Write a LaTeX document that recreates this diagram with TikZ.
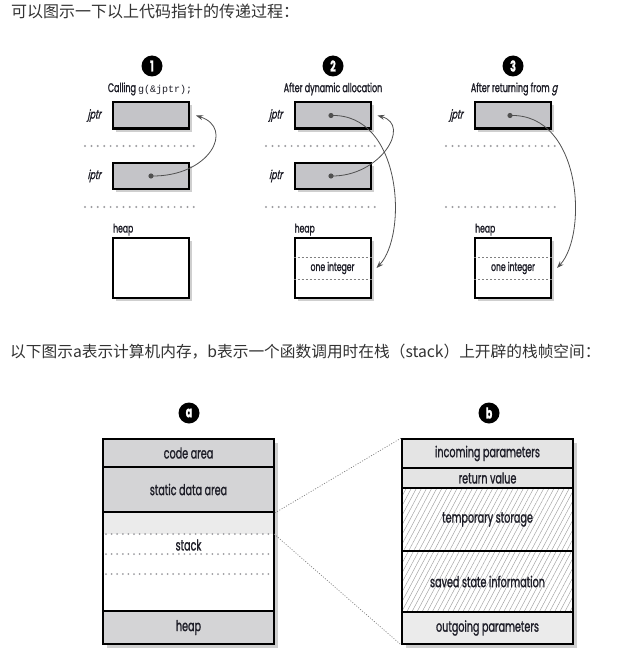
\documentclass[tikz,border=0pt]{standalone}
\usepackage{fontspec}
\usetikzlibrary{arrows.meta,patterns.meta,shadows,calc}
\setmainfont{Poppins}
\newfontfamily\cond[FakeStretch=0.64,FakeBold=1.2]{Poppins}
\newfontfamily\condit[FakeStretch=0.64,FakeSlant=0.22,FakeBold=1.2]{Poppins}
\newfontfamily\cjk{Noto Sans CJK SC}
\newfontfamily\monof{Liberation Mono}
\definecolor{boxgray}{HTML}{C4C4C8}
\definecolor{areagray}{HTML}{D4D4D6}
\definecolor{paleA}{HTML}{EBEBEB}
\definecolor{paleB}{HTML}{E4E4E4}
\definecolor{txt}{HTML}{333333}
\definecolor{ink}{HTML}{1E1E28}
\definecolor{dotgray}{HTML}{9C9CA0}
\definecolor{arrowgray}{HTML}{505050}
\definecolor{shadowgray}{HTML}{CFCFCF}
\begin{document}
\begin{tikzpicture}[x=1pt,y=-1pt,
  ptrbox/.style={draw=black, line width=2pt, fill=boxgray, minimum width=76pt, minimum height=26pt, inner sep=0pt,
    general shadow={fill=shadowgray, shadow xshift=3pt, shadow yshift=-3pt}},
  heapbox/.style={draw=black, line width=2pt, fill=white, minimum width=76pt, minimum height=60pt, inner sep=0pt,
    general shadow={fill=shadowgray, shadow xshift=3pt, shadow yshift=-3pt}},
  lbl/.style={font=\condit\fontsize{12.5}{14}\selectfont, text=ink, inner sep=0pt},
  hlbl/.style={font=\cond\fontsize{12}{14}\selectfont, text=ink, inner sep=0pt},
  ttl/.style={font=\cond\fontsize{12.5}{14}\selectfont, text=ink, inner sep=0pt},
  numc/.style={circle, fill=black, text=white, minimum size=21pt, inner sep=0pt, font=\cond\bfseries\fontsize{15}{15}\selectfont},
  dotrow/.style={dotgray, line width=2.2pt, line cap=round, dash pattern=on 0pt off 6.4pt},
  ptrdot/.style={circle, fill=arrowgray, minimum size=5.2pt, inner sep=0pt},
  arr/.style={arrowgray, line width=0.8pt, -{Stealth[length=7pt,width=5pt]}},
  intline/.style={gray, line width=0.7pt, dash pattern=on 2.2pt off 1.8pt},
  areabox/.style={draw=black, line width=1.8pt, minimum width=171pt, inner sep=0pt, font=\cond\fontsize{15}{17}\selectfont, text=ink},
  hatchbox/.style={draw=black, line width=1.8pt, minimum width=171pt, inner sep=0pt, preaction={fill=white}, pattern={Lines[angle=62,distance=4.5pt,line width=0.45pt]}, pattern color=gray!75},
  conn/.style={gray, line width=0.7pt, dash pattern=on 1pt off 1.6pt},
  cjkt/.style={font=\cjk\fontsize{16}{18}\selectfont, text=txt, inner sep=0pt}
]
\useasboundingbox (0,0) rectangle (621,658);
\fill[white] (0,0) rectangle (621,658);

% header
\node[cjkt, anchor=west] (hdr1) at (11,11) {可以图示一下以上代码指针的传递过程：};

% ---------- panel 1 ----------
\node[numc] (n1) at (152,66) {1};
\node[ttl] (t1) at (150,89) {Calling {\monof\fontsize{10}{12}\selectfont g(\&jptr);}};
\node[ptrbox] (j1) at (151,115.5) {};
\node[ptrbox] (i1) at (151,176) {};
\node[lbl, anchor=east] (lj1) at ([xshift=-11pt]j1.west) {jptr};
\node[lbl, anchor=east] (li1) at ([xshift=-11pt]i1.west) {iptr};
\draw[dotrow] (85,146) -- (195,146);
\draw[dotrow] (85,207) -- (195,207);
\node[heapbox] (h1) at (151,268) {};
\node[hlbl, anchor=base west] (lh1) at ([xshift=1pt,yshift=4.5pt]h1.north west) {heap};
\node[ptrdot] (d1) at (151,176) {};
\draw[arr] (d1.center) .. controls (210,177) and (235,128) .. ([xshift=6pt]j1.east);

% ---------- panel 2 ----------
\node[numc] (n2) at (333,66) {2};
\node[ttl] (t2) at (333,89) {After dynamic allocation};
\node[ptrbox] (j2) at (332.5,115.5) {};
\node[ptrbox] (i2) at (332.5,176) {};
\node[lbl, anchor=east] (lj2) at ([xshift=-11pt]j2.west) {jptr};
\node[lbl, anchor=east] (li2) at ([xshift=-11pt]i2.west) {iptr};
\draw[dotrow] (266,146) -- (377,146);
\draw[dotrow] (266,207) -- (377,207);
\node[heapbox] (h2) at (332.5,268) {};
\node[hlbl, anchor=base west] (lh2) at ([xshift=1pt,yshift=4.5pt]h2.north west) {heap};
\draw[intline] ([yshift=-20pt]h2.north west) -- ([yshift=-20pt]h2.north east);
\draw[intline] ([yshift=20pt]h2.south west) -- ([yshift=20pt]h2.south east);
\node[hlbl, font=\cond\fontsize{12}{13}\selectfont] (oi2) at (332.5,268) {one integer};
\node[ptrdot] (d2i) at (331,176) {};
\node[ptrdot] (d2j) at (331,115.5) {};
\draw[arr] (d2i.center) .. controls (380,177) and (412,125) .. ([xshift=6pt]j2.east);
\draw[arr] (d2j.center) .. controls (402,113) and (408,235) .. ([xshift=5pt]h2.east);

% ---------- panel 3 ----------
\node[numc] (n3) at (513,66) {3};
\node[ttl] (t3) at (514,89) {After returning from {\condit g}};
\node[ptrbox] (j3) at (513,115.5) {};
\node[lbl, anchor=east] (lj3) at ([xshift=-11pt]j3.west) {jptr};
\draw[dotrow] (446,146) -- (557,146);
\draw[dotrow] (446,207) -- (557,207);
\node[heapbox] (h3) at (513,268) {};
\node[hlbl, anchor=base west] (lh3) at ([xshift=1pt,yshift=4.5pt]h3.north west) {heap};
\draw[intline] ([yshift=-20pt]h3.north west) -- ([yshift=-20pt]h3.north east);
\draw[intline] ([yshift=20pt]h3.south west) -- ([yshift=20pt]h3.south east);
\node[hlbl, font=\cond\fontsize{12}{13}\selectfont] (oi3) at (513,268) {one integer};
\node[ptrdot] (d3j) at (510,115.5) {};
\draw[arr] (d3j.center) .. controls (582,113) and (588,235) .. ([xshift=5pt]h3.east);

% second header
\node[cjkt, font=\cjk\fontsize{15.7}{18}\selectfont, anchor=west] (hdr2) at (10,352) {以下图示a表示计算机内存，b表示一个函数调用时在栈（stack）上开辟的栈帧空间：};

% ---------- a ----------
\node[numc] (na) at (189,413) {a};
\fill[shadowgray] (107,443) rectangle (278,648);
\node[areabox, fill=areagray, minimum height=28pt] (codeA) at (188.5,453) {code area};
\node[areabox, fill=areagray, minimum height=45pt] (staticA) at (188.5,489.5) {static data area};
\node[areabox, fill=white, minimum height=99pt] (stackA) at (188.5,561.5) {};
\fill[paleA] (104,513) rectangle (273,534);
\node[areabox, fill=areagray, minimum height=33pt] (heapA) at (188.5,627.5) {heap};
\draw[dotrow, line width=2pt, dash pattern=on 0pt off 5.6pt] (106,534) -- (272,534);
\draw[dotrow, line width=2pt, dash pattern=on 0pt off 5.6pt] (106,554) -- (272,554);
\draw[dotrow, line width=2pt, dash pattern=on 0pt off 5.6pt] (106,574) -- (272,574);
\node[areabox, draw=none, minimum height=0pt] (stk) at (188.5,545) {stack};
\draw[black, line width=2.2pt] (103,439) rectangle (274,644);

% ---------- b ----------
\node[numc] (nb) at (489,413) {b};
\fill[shadowgray] (406,443) rectangle (577,648);
\node[areabox, fill=paleB, minimum height=29pt] (incB) at (487.5,453.5) {incoming parameters};
\node[areabox, fill=paleB, minimum height=20pt] (retB) at (487.5,478) {return value};
\node[hatchbox, minimum height=63pt] (tmpB) at (487.5,519.5) {};
\node[areabox, draw=none, minimum height=0pt, inner sep=0pt] (tmpT) at (487.5,519.5) {temporary storage};
\node[hatchbox, minimum height=61pt] (savB) at (487.5,581.5) {};
\node[areabox, draw=none, minimum height=0pt, inner sep=0pt] (savT) at (487.5,581.5) {saved state information};
\node[areabox, fill=paleA, minimum height=32pt] (outB) at (487.5,628) {outgoing parameters};
\draw[black, line width=2.2pt] (402,439) rectangle (573,644);

% connectors
\coordinate (stkR) at (274,534);
\draw[conn] (staticA.south east) -- (incB.north west);
\draw[conn] (stkR) -- (outB.south west);
\end{tikzpicture}
\end{document}
